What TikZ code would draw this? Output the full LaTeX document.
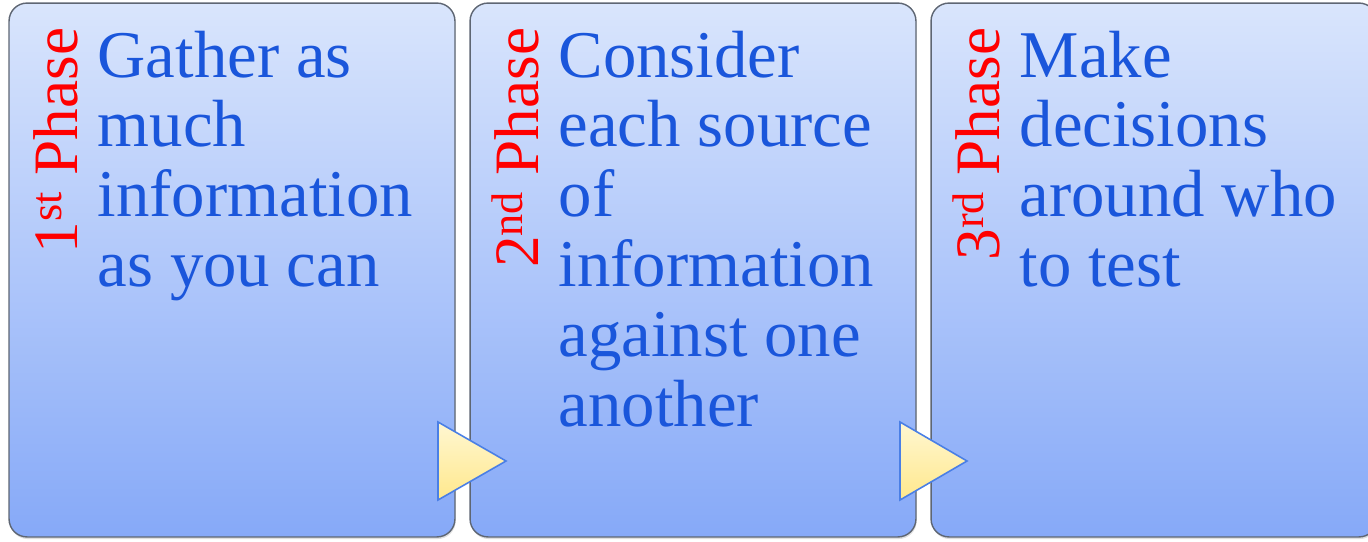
\documentclass[tikz,border=0pt]{standalone}
\usepackage{fontspec}
\setmainfont{Liberation Serif}
\usepackage{xcolor}
\definecolor{phasetop}{HTML}{D9E5FC}
\definecolor{phasebottom}{HTML}{86A9F8}
\definecolor{phaseedge}{HTML}{5E6673}
\definecolor{phaseblue}{HTML}{1A56DB}
\definecolor{phasered}{HTML}{FF0000}
\definecolor{tiptop}{HTML}{FFF7D2}
\definecolor{tipbottom}{HTML}{FFE88C}
\definecolor{tipedge}{HTML}{4A7FE6}
\usetikzlibrary{shapes.geometric, shadows, calc}

\begin{document}
\begin{tikzpicture}[x=0.02cm, y=-0.02cm,
  phasebox/.style={rectangle, rounded corners=0.36cm, draw=phaseedge, line width=0.8pt,
    top color=phasetop, bottom color=phasebottom, minimum width=8.92cm, minimum height=10.68cm,
    inner sep=0pt, drop shadow={opacity=0.25, shadow xshift=0.4pt, shadow yshift=-1.2pt}},
  phasetag/.style={rotate=90, inner sep=0pt, text=phasered, font=\fontsize{36}{42}\selectfont},
  phasetext/.style={align=left, inner sep=0pt, text=phaseblue, font=\fontsize{38}{39.8}\selectfont},
  phasearrow/.style={draw=tipedge, line width=0.9pt, line join=miter, top color=tiptop, bottom color=tipbottom}
]
\clip (0,0) rectangle (1368,541);

% the three phases
\node[phasebox] (first) at (232,270) {};
\node[phasebox] (second) at (693,270) {};
\node[phasebox] (third) at (1154,270) {};

% arrows between the phases
\path[phasearrow] (438,422) -- (438,500) -- (506,461) -- cycle;
\path[phasearrow] (900,422) -- (900,500) -- (967,461) -- cycle;

% phase names
\node[phasetag, anchor=base east] (first-tag) at ($(first.north west)+(69,25)$) {1\textsuperscript{st} Phase};
\node[phasetag, anchor=base east] (second-tag) at ($(second.north west)+(69,25)$) {2\textsuperscript{nd} Phase};
\node[phasetag, anchor=base east] (third-tag) at ($(third.north west)+(69,25)$) {3\textsuperscript{rd} Phase};

% what happens in each phase
\node[phasetext, anchor=north west] (first-text) at ($(first.north west)+(89,28)$)
  {Gather as\\much\\information\\as you can};
\node[phasetext, anchor=north west] (second-text) at ($(second.north west)+(89,28)$)
  {Consider\\each source\\of\\information\\against one\\another};
\node[phasetext, anchor=north west] (third-text) at ($(third.north west)+(89,28)$)
  {Make\\decisions\\around who\\to test};
\end{tikzpicture}
\end{document}
